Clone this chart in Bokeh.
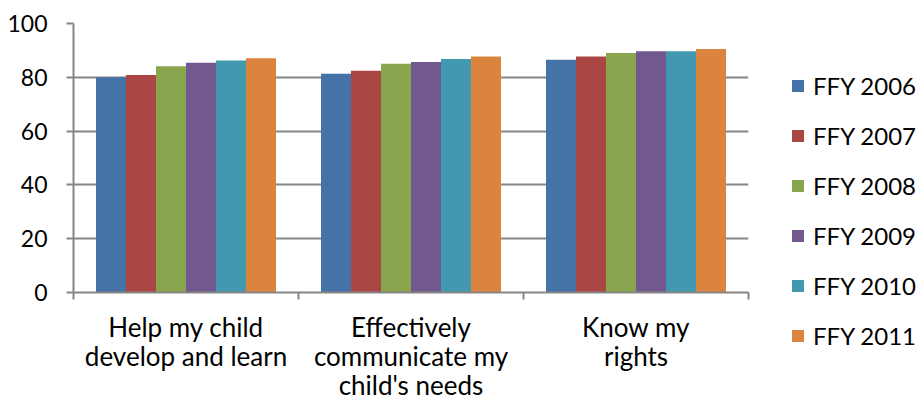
import numpy as np
from bokeh.plotting import figure
from bokeh.models import ColumnDataSource, FixedTicker, Legend, LegendItem, Range1d
from bokeh.embed import file_html
from bokeh.resources import INLINE

categories = ["Help my child\ndevelop and learn",
              "Effectively\ncommunicate my\nchild's needs",
              "Know my\nrights"]
years = ["FFY 2006", "FFY 2007", "FFY 2008", "FFY 2009", "FFY 2010", "FFY 2011"]
values = {
    "FFY 2006": [80.0, 81.3, 86.5],
    "FFY 2007": [80.9, 82.4, 87.7],
    "FFY 2008": [84.1, 85.0, 89.0],
    "FFY 2009": [85.4, 85.7, 89.7],
    "FFY 2010": [86.2, 86.8, 89.7],
    "FFY 2011": [87.1, 87.7, 90.5],
}
colors = ["#4572A7", "#AA4643", "#89A54E", "#71588F", "#4198AF", "#DB843D"]
y_ticks = [0, 20, 40, 60, 80, 100]

FONT = "Lato"

p = figure(frame_width=675, frame_height=269, output_backend="svg", toolbar_location=None,
           x_range=Range1d(0, len(categories)), y_range=Range1d(0, 100),
           min_border_left=73, min_border_top=23, min_border_right=0, min_border_bottom=0)
p.outline_line_color = None
p.background_fill_color = "white"

n = len(years)
group_w = 0.8
bar_w = group_w / n
centers = np.arange(len(categories)) + 0.5
renderers = []
for j, (yr, c) in enumerate(zip(years, colors)):
    xs = centers + (j - (n - 1) / 2) * bar_w
    src = ColumnDataSource(dict(x=xs, top=values[yr]))
    r = p.vbar(x="x", top="top", width=bar_w, bottom=0, source=src,
               fill_color=c, line_color=None)
    renderers.append(r)

xa = p.xaxis[0]
xa.ticker = FixedTicker(ticks=list(centers), minor_ticks=list(range(len(categories) + 1)))
xa.major_label_overrides = {float(cx): lab for cx, lab in zip(centers, categories)}
xa.major_tick_line_color = None
xa.major_tick_out = 0
xa.major_tick_in = 0
xa.minor_tick_line_color = "#868686"
xa.minor_tick_line_width = 2
xa.minor_tick_out = 7
xa.minor_tick_in = 0
xa.axis_line_color = "#868686"
xa.axis_line_width = 2
xa.major_label_text_font = FONT
xa.major_label_text_font_size = "26px"
xa.major_label_text_line_height = 0.92
xa.major_label_text_color = "black"
xa.major_label_standoff = 11
xa.major_label_orientation = "horizontal"

ya = p.yaxis[0]
ya.ticker = FixedTicker(ticks=y_ticks, minor_ticks=[])
ya.major_tick_out = 7
ya.major_tick_in = 0
ya.major_tick_line_color = "#868686"
ya.major_tick_line_width = 2
ya.axis_line_color = "#868686"
ya.axis_line_width = 2
ya.major_label_text_font = FONT
ya.major_label_text_font_size = "23px"
ya.major_label_text_color = "black"
ya.major_label_standoff = 19

p.xgrid.grid_line_color = None
p.ygrid.ticker = FixedTicker(ticks=y_ticks)
p.ygrid.grid_line_color = "#868686"
p.ygrid.grid_line_width = 2

legend = Legend(items=[LegendItem(label=yr, renderers=[r]) for yr, r in zip(years, renderers)],
                location=(42, -58), padding=0, margin=0, border_line_color=None,
                background_fill_alpha=0, glyph_width=15, glyph_height=15,
                label_standoff=8, label_height=30, spacing=20,
                label_text_font=FONT, label_text_font_size="24px", label_text_color="black")
p.add_layout(legend, "right")

open("out.html", "w").write(file_html(p, INLINE))
